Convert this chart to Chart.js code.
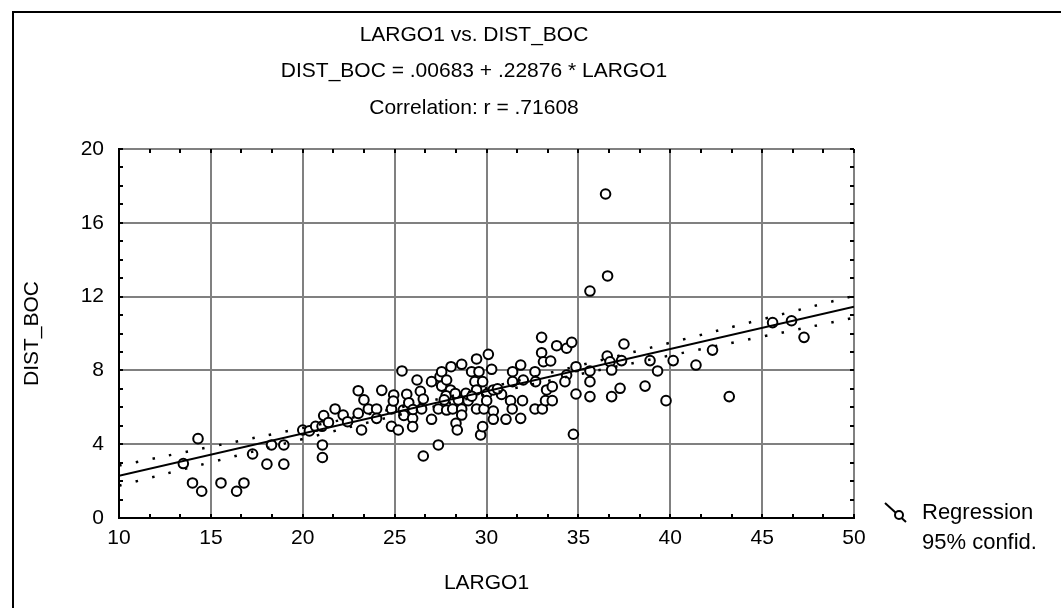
<!DOCTYPE html>
<html>
<head>
<meta charset="utf-8">
<script src="https://cdn.jsdelivr.net/npm/chart.js@4"></script>
<style>
  html, body { margin: 0; padding: 0; background: #fff; }
  #wrap { position: relative; width: 1061px; height: 608px; overflow: hidden; }
  #frame { position: absolute; left: 12px; top: 11px; width: 1200px; height: 700px;
           border-left: 2px solid #000; border-top: 2px solid #000; }
  canvas { position: absolute; left: 0; top: 0; }
</style>
</head>
<body>
<div id="wrap">
  <div id="frame"></div>
  <canvas id="chart" width="1061" height="608"></canvas>
</div>
<script>
// LARGO1 (x) and DIST_BOC (y)
var largo1 = [13.5, 14.0, 14.3, 14.5, 15.55, 16.4, 16.8, 17.27, 18.05, 18.3,
  18.97, 18.97, 20.0, 20.36, 20.7, 21.05, 21.14, 21.07, 21.07, 21.4,
  21.76, 22.2, 22.44, 23.02, 23.02, 23.2, 23.33, 23.57, 24.02, 24.02,
  24.3, 24.83, 24.83, 24.95, 24.93, 25.2, 25.4, 25.47, 25.5, 25.66,
  25.77, 25.98, 25.98, 26.0, 26.22, 26.4, 26.47, 26.56, 26.56, 27.01,
  27.01, 27.38, 27.38, 27.47, 27.56, 27.56, 27.83, 27.83, 28.04, 28.07,
  28.16, 28.34, 28.41, 28.47, 28.65, 28.65, 28.65, 28.88, 29.0, 29.19,
  29.37, 29.46, 29.46, 29.46, 29.59, 29.68, 29.79, 29.79, 29.86, 30.01,
  30.01, 30.1, 30.28, 30.37, 30.37, 30.37, 30.82, 31.06, 31.31, 31.4,
  31.42, 31.42, 31.86, 31.86, 31.96, 32.0, 32.64, 32.67, 32.64, 33.0,
  33.0, 33.04, 33.1, 33.21, 33.27, 33.49, 33.58, 33.58, 33.82, 34.36,
  34.36, 34.27, 34.64, 34.73, 34.87, 34.87, 35.63, 35.63, 35.63, 35.63,
  36.48, 36.59, 36.57, 36.72, 36.81, 36.81, 37.27, 37.35, 37.48, 38.63,
  38.9, 39.31, 39.77, 40.16, 41.4, 42.3, 43.21, 45.57, 46.6, 47.28,
  27.8, 28.3, 27.7, 29.2, 30.6];
var distBoc = [2.95, 1.9, 4.3, 1.45, 1.9, 1.45, 1.9, 3.47, 2.92, 3.96,
  3.96, 2.92, 4.77, 4.72, 4.97, 4.97, 5.55, 3.96, 3.28, 5.18,
  5.91, 5.58, 5.22, 5.67, 6.9, 4.77, 6.4, 5.91, 5.91, 5.4,
  6.92, 5.91, 4.97, 6.67, 6.34, 4.77, 7.97, 5.85, 5.56, 6.71,
  6.25, 5.4, 4.95, 5.88, 7.48, 6.87, 5.91, 6.45, 3.36, 7.39,
  5.35, 5.91, 3.96, 7.66, 7.93, 7.15, 7.48, 5.85, 6.94, 8.2,
  5.91, 5.13, 4.77, 6.4, 8.33, 5.91, 5.58, 6.76, 6.36, 7.93,
  7.39, 8.62, 6.94, 5.91, 7.93, 4.5, 7.39, 4.95, 5.91, 6.72,
  6.36, 8.87, 8.06, 6.94, 5.8, 5.35, 6.7, 5.35, 6.36, 5.91,
  7.93, 7.39, 8.29, 5.4, 6.36, 7.48, 7.93, 7.39, 5.91, 9.79,
  8.96, 5.91, 8.47, 6.36, 6.94, 8.51, 7.12, 6.36, 9.34, 9.2,
  7.75, 7.39, 9.52, 4.54, 8.2, 6.72, 12.3, 7.97, 7.39, 6.58,
  17.56, 13.12, 8.78, 8.47, 8.02, 6.58, 7.03, 8.53, 9.43, 7.15,
  8.53, 7.97, 6.36, 8.53, 8.29, 9.1, 6.58, 10.59, 10.69, 9.79,
  6.63, 6.75, 6.4, 6.6, 7.0];

// regression line ends and 95% band
var lineX = [10, 50];
var lineY = [2.29, 11.45];
var bandX = [10, 15, 20, 25, 30, 35, 40, 45, 50];
var bandUpper = [2.84, 3.86, 4.88, 5.93, 7.04, 8.25, 9.50, 10.77, 12.04];
var bandLower = [1.75, 3.02, 4.28, 5.53, 6.70, 7.78, 8.81, 9.83, 10.85];

var xTicks = [10, 15, 20, 25, 30, 35, 40, 45, 50];
var yTicks = [0, 4, 8, 12, 16, 20];

var titleLines = ['LARGO1 vs. DIST_BOC', 'DIST_BOC = .00683 + .22876 * LARGO1', 'Correlation: r = .71608'];
var legendLabels = ['Regression', '95% confid.'];

var FONT = 'Liberation Sans, Arial, sans-serif';

function pairs(xs, ys) {
    var out = [];
    for (var i = 0; i < xs.length; i++) out.push({ x: xs[i], y: ys[i] });
    return out;
}

var extras = {
    id: 'extras',
    afterDraw: function (chart) {
        var ctx = chart.ctx;
        var a = chart.chartArea;
        var sx = chart.scales.x, sy = chart.scales.y;
        ctx.save();
        // minor ticks pointing inward on all four sides
        ctx.strokeStyle = '#000';
        ctx.lineWidth = 2;
        ctx.beginPath();
        for (var v = 10; v <= 50.001; v += 5 / 3) {
            var px = Math.round(sx.getPixelForValue(v));
            ctx.moveTo(px, a.bottom); ctx.lineTo(px, a.bottom - 4);
            ctx.moveTo(px, a.top); ctx.lineTo(px, a.top + 4);
        }
        for (var w = 0; w <= 20; w++) {
            var py = Math.round(sy.getPixelForValue(w));
            ctx.moveTo(a.left, py); ctx.lineTo(a.left + 4, py);
            ctx.moveTo(a.right, py); ctx.lineTo(a.right - 4, py);
        }
        ctx.stroke();

        // titles
        ctx.fillStyle = '#000';
        ctx.font = '21px ' + FONT;
        ctx.textAlign = 'center';
        ctx.textBaseline = 'middle';
        ctx.fillText(titleLines[0], 474, 35);
        ctx.fillText(titleLines[1], 474, 71);
        ctx.fillText(titleLines[2], 474, 108);

        // legend
        ctx.lineWidth = 2;
        ctx.beginPath();
        ctx.moveTo(885, 503); ctx.lineTo(906, 522);
        ctx.stroke();
        ctx.fillStyle = '#fff';
        ctx.beginPath();
        ctx.arc(899, 515, 4, 0, Math.PI * 2);
        ctx.fill(); ctx.stroke();
        ctx.fillStyle = '#000';
        ctx.font = '22px ' + FONT;
        ctx.textAlign = 'left';
        ctx.fillText(legendLabels[0], 922, 513);
        ctx.fillText(legendLabels[1], 922, 543);
        ctx.restore();
    }
};

var ctx = document.getElementById('chart').getContext('2d');

var chart = new Chart(ctx, {
    type: 'scatter',
    data: {
        datasets: [{
            data: pairs(lineX, lineY),
            showLine: true,
            borderColor: '#000',
            borderWidth: 2,
            pointRadius: 0,
            order: 0
        }, {
            data: pairs(bandX, bandUpper),
            showLine: true,
            borderColor: '#000',
            borderWidth: 2.5,
            borderDash: [2.5, 14.5],
            tension: 0.4,
            pointRadius: 0,
            order: 0
        }, {
            data: pairs(bandX, bandLower),
            showLine: true,
            borderColor: '#000',
            borderWidth: 2.5,
            borderDash: [2.5, 14.5],
            tension: 0.4,
            pointRadius: 0,
            order: 0
        }, {
            data: pairs(largo1, distBoc),
            showLine: false,
            pointRadius: 4.8,
            pointBorderWidth: 2,
            pointBorderColor: '#000',
            pointBackgroundColor: '#fff',
            order: 1
        }]
    },
    options: {
        responsive: false,
        animation: false,
        events: [],
        layout: { padding: { left: 0, top: 149, right: 207, bottom: 0 } },
        plugins: {
            legend: { display: false },
            tooltip: { enabled: false }
        },
        scales: {
            x: {
                type: 'linear',
                min: 10, max: 50,
                afterBuildTicks: function (s) { s.ticks = xTicks.map(function (v) { return { value: v }; }); },
                afterFit: function (s) { s.height = 90; },
                ticks: { color: '#000', font: { family: FONT, size: 21 }, padding: 8, maxRotation: 0 },
                grid: { color: '#808080', lineWidth: 2, drawTicks: false },
                border: { color: '#000', width: 2 },
                title: { display: true, text: 'LARGO1', color: '#000', font: { family: FONT, size: 21 }, padding: { top: 0, bottom: 12 } }
            },
            y: {
                type: 'linear',
                min: 0, max: 20,
                afterBuildTicks: function (s) { s.ticks = yTicks.map(function (v) { return { value: v }; }); },
                afterFit: function (s) { s.width = 119; },
                ticks: { color: '#000', font: { family: FONT, size: 21 }, padding: 15 },
                grid: { color: '#808080', lineWidth: 2, drawTicks: false },
                border: { color: '#000', width: 2 },
                title: { display: true, text: 'DIST_BOC', color: '#000', font: { family: FONT, size: 21 }, padding: { top: 20, bottom: 0 } }
            }
        }
    },
    plugins: [extras]
});
</script>
</body>
</html>
